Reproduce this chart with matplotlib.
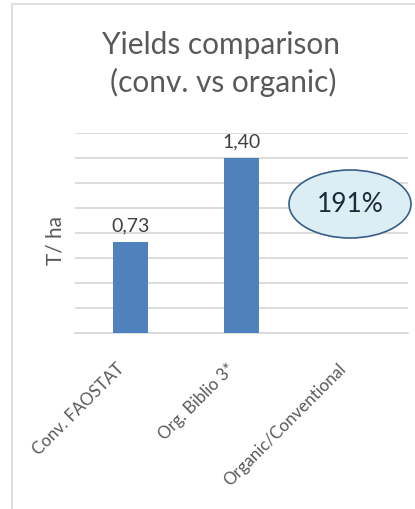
import numpy as np
import matplotlib.pyplot as plt
import matplotlib.transforms as mtransforms
from matplotlib.patches import Ellipse, Rectangle

plt.rcParams['font.family'] = ['Lato', 'DejaVu Sans']

categories = ['Conv. FAOSTAT', 'Org. Biblio 3*', 'Organic/Conventional']
values = [0.73, 1.40, np.nan]
ratio_label = '191%'

fig = plt.figure(figsize=(4.15, 5.1), dpi=100)
ax = fig.add_axes([0.1807, 0.345, 0.8023, 0.392])

x = np.arange(len(categories))
ax.bar(x, values, width=0.315, color='#4F81BD', zorder=3)
for xi, v in zip(x, values):
    if not np.isnan(v):
        ax.text(xi, v + 0.07, f'{v:.2f}'.replace('.', ','), ha='center', va='bottom',
                fontsize=14, color='#404040')

ax.set_xlim(-0.5, len(categories) - 0.5)
ax.set_ylim(0, 1.6)
ax.set_yticks(np.arange(0, 1.61, 0.2))
ax.yaxis.grid(True, color='#D9D9D9', linewidth=1.3, zorder=0)
ax.tick_params(axis='y', length=0, labelleft=False)
ax.tick_params(axis='x', length=0, pad=23)
ax.set_xticks(x)
ax.set_xticklabels(categories, rotation=45, ha='right', va='center', rotation_mode='anchor',
                   fontsize=12.2, color='#595959')
# nudge the rotated labels left a little
shift = mtransforms.ScaledTranslation(-9 / 100, 0, fig.dpi_scale_trans)
for lbl in ax.get_xticklabels():
    lbl.set_transform(lbl.get_transform() + shift)
for s in ['left', 'right', 'top']:
    ax.spines[s].set_visible(False)
ax.spines['bottom'].set_color('#D9D9D9')
ax.spines['bottom'].set_linewidth(1.3)

ax.set_ylabel('T/ ha', fontsize=15, color='#595959')
ax.yaxis.set_label_coords(-0.03, 0.47)

fig.text(0.532, 1 - 45 / 510, 'Yields comparison', ha='center', va='center',
         fontsize=21.5, color='#595959')
fig.text(0.537, 1 - 82 / 510, '(conv. vs organic)', ha='center', va='center',
         fontsize=21.5, color='#595959')

# callout ellipse
ell = Ellipse((350 / 415, 1 - 205 / 510), 122 / 415, 68 / 510, transform=fig.transFigure,
              facecolor='#DBEEF4', edgecolor='#385D8A', linewidth=1.2, zorder=5)
fig.patches.append(ell)
fig.text(350 / 415, 1 - 205 / 510, ratio_label, ha='center', va='center',
         fontsize=19, color='#1F2A3C', zorder=6)

# chart border
fig.patches.append(Rectangle((12 / 415, -0.1), 1.2, 1.1 - 5 / 510, transform=fig.transFigure,
                             fill=False, edgecolor='#D9D9D9', linewidth=1.2))

fig.savefig('out.png', dpi=100)
